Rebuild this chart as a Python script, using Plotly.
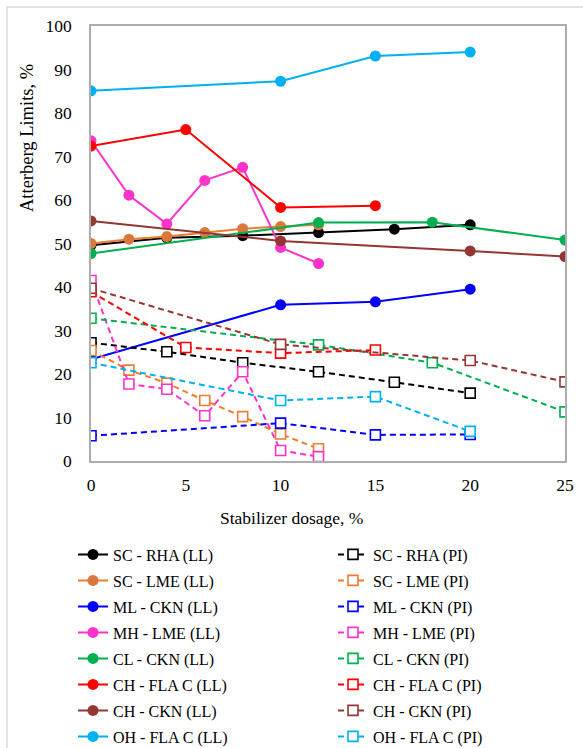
import plotly.graph_objects as go

# ---------------- data ----------------
names = ["SC - RHA", "SC - LME", "ML - CKN", "MH - LME",
         "CL - CKN", "CH - FLA C", "CH - CKN", "OH - FLA C"]

x_sc_rha = [0, 4, 8, 12, 16, 20]
ll_sc_rha = [49.6, 51.3, 51.8, 52.5, 53.3, 54.3]
pi_sc_rha = [27.2, 25.1, 22.6, 20.5, 18.1, 15.6]

x_sc_lme = [0, 2, 4, 6, 8, 10, 12]
ll_sc_lme = [50.0, 51.0, 51.6, 52.5, 53.4, 53.9, 54.3]
pi_sc_lme = [25.4, 20.9, 17.9, 13.9, 10.2, 6.2, 2.8]

x_ml_ckn = [0, 10, 15, 20]
ll_ml_ckn = [23.4, 35.9, 36.6, 39.5]
pi_ml_ckn = [5.8, 8.7, 6.0, 6.1]

x_mh_lme = [0, 2, 4, 6, 8, 10, 12]
ll_mh_lme = [73.6, 61.1, 54.5, 64.5, 67.5, 49.1, 45.4]
pi_mh_lme = [41.5, 17.7, 16.5, 10.4, 20.5, 2.4, 1.0]

x_cl_ckn = [0, 12, 18, 25]
ll_cl_ckn = [47.7, 54.8, 54.9, 50.8]
pi_cl_ckn = [32.8, 26.7, 22.6, 11.3]

x_ch_fla = [0, 5, 10, 15]
ll_ch_fla = [72.4, 76.2, 58.3, 58.7]
pi_ch_fla = [38.9, 26.1, 24.8, 25.5]

x_ch_ckn = [0, 10, 20, 25]
ll_ch_ckn = [55.2, 50.6, 48.3, 47.0]
pi_ch_ckn = [39.7, 26.8, 23.1, 18.2]

x_oh_fla = [0, 10, 15, 20]
ll_oh_fla = [85.1, 87.3, 93.1, 94.0]
pi_oh_fla = [22.6, 13.9, 14.8, 6.8]

xs = [x_sc_rha, x_sc_lme, x_ml_ckn, x_mh_lme, x_cl_ckn, x_ch_fla, x_ch_ckn, x_oh_fla]
lls = [ll_sc_rha, ll_sc_lme, ll_ml_ckn, ll_mh_lme, ll_cl_ckn, ll_ch_fla, ll_ch_ckn, ll_oh_fla]
pis = [pi_sc_rha, pi_sc_lme, pi_ml_ckn, pi_mh_lme, pi_cl_ckn, pi_ch_fla, pi_ch_ckn, pi_oh_fla]

line_colors = ["#000000", "#ED7D31", "#0000FF", "#FF33CC",
               "#00B050", "#FF0000", "#943634", "#00B0F0"]
marker_colors = ["#000000", "#D9783A", "#0000FF", "#FF33CC",
                 "#00B050", "#FF0000", "#943634", "#00B0F0"]

x_ticks = [0, 5, 10, 15, 20, 25]
y_ticks = [0, 10, 20, 30, 40, 50, 60, 70, 80, 90, 100]

# ---------------- geometry ----------------
W, H = 583, 748
L, R, T, B = 91, 565, 26, 461


def px(xp):
    return (xp - L) / (R - L)


def py(yp):
    return (B - yp) / (B - T)


SERIF = "Liberation Serif"

fig = go.Figure()

for i, n in enumerate(names):
    fig.add_trace(go.Scatter(
        x=xs[i], y=lls[i], name=f"{n} (LL)", mode="lines+markers",
        line=dict(color=line_colors[i], width=2),
        marker=dict(symbol="circle", size=11, color=marker_colors[i]),
        legend="legend", legendgroup=f"ll{i}",
    ))

for i, n in enumerate(names):
    fig.add_trace(go.Scatter(
        x=xs[i], y=pis[i], name=f"{n} (PI)", mode="lines+markers",
        line=dict(color=line_colors[i], width=2, dash="6px,4px"),
        marker=dict(symbol="square", size=10, color="white",
                    line=dict(color=line_colors[i], width=1.6)),
        legend="legend2", legendgroup=f"pi{i}",
    ))

legend_common = dict(
    font=dict(family=SERIF, size=16, color="#000000"),
    bgcolor="rgba(0,0,0,0)", borderwidth=0,
    orientation="v", traceorder="grouped", tracegroupgap=2.2,
    xanchor="left", yanchor="top", itemwidth=30,
)

fig.update_layout(
    width=W, height=H,
    margin=dict(l=L, r=W - R, t=T, b=H - B, autoexpand=False),
    paper_bgcolor="white", plot_bgcolor="white",
    showlegend=True,
    legend=dict(x=px(73), y=py(537.5), **legend_common),
    legend2=dict(x=px(333), y=py(537.5), **legend_common),
    xaxis=dict(
        range=[0, 25], tickvals=x_ticks, ticktext=[str(v) for v in x_ticks],
        showgrid=False, zeroline=False, showline=True, mirror=True,
        linecolor="#ADADAD", linewidth=1.5, ticks="",
        ticklabelstandoff=7,
        tickfont=dict(family=SERIF, size=17.5, color="#000000"),
    ),
    yaxis=dict(
        range=[0, 100], tickvals=y_ticks, ticktext=[str(v) for v in y_ticks],
        showgrid=False, zeroline=False, showline=True, mirror=True,
        linecolor="#ADADAD", linewidth=1.5, ticks="",
        ticklabelstandoff=14,
        tickfont=dict(family=SERIF, size=17.5, color="#000000"),
    ),
    annotations=[
        dict(text="Stabilizer dosage, %", xref="paper", yref="paper",
             x=px(291), y=py(518), showarrow=False, xanchor="center", yanchor="middle",
             font=dict(family=SERIF, size=17.5, color="#000000")),
        dict(text="Atterberg Limits, %", xref="paper", yref="paper",
             x=px(27), y=py(138), showarrow=False, textangle=-90,
             xanchor="center", yanchor="middle",
             font=dict(family=SERIF, size=18.5, color="#000000")),
    ],
    shapes=[
        dict(type="rect", xref="paper", yref="paper",
             x0=px(7), x1=px(600), y0=py(7), y1=py(780),
             line=dict(color="#D9D9D9", width=1.5), fillcolor="rgba(0,0,0,0)",
             layer="below"),
    ],
)

fig.write_html("out.html")
